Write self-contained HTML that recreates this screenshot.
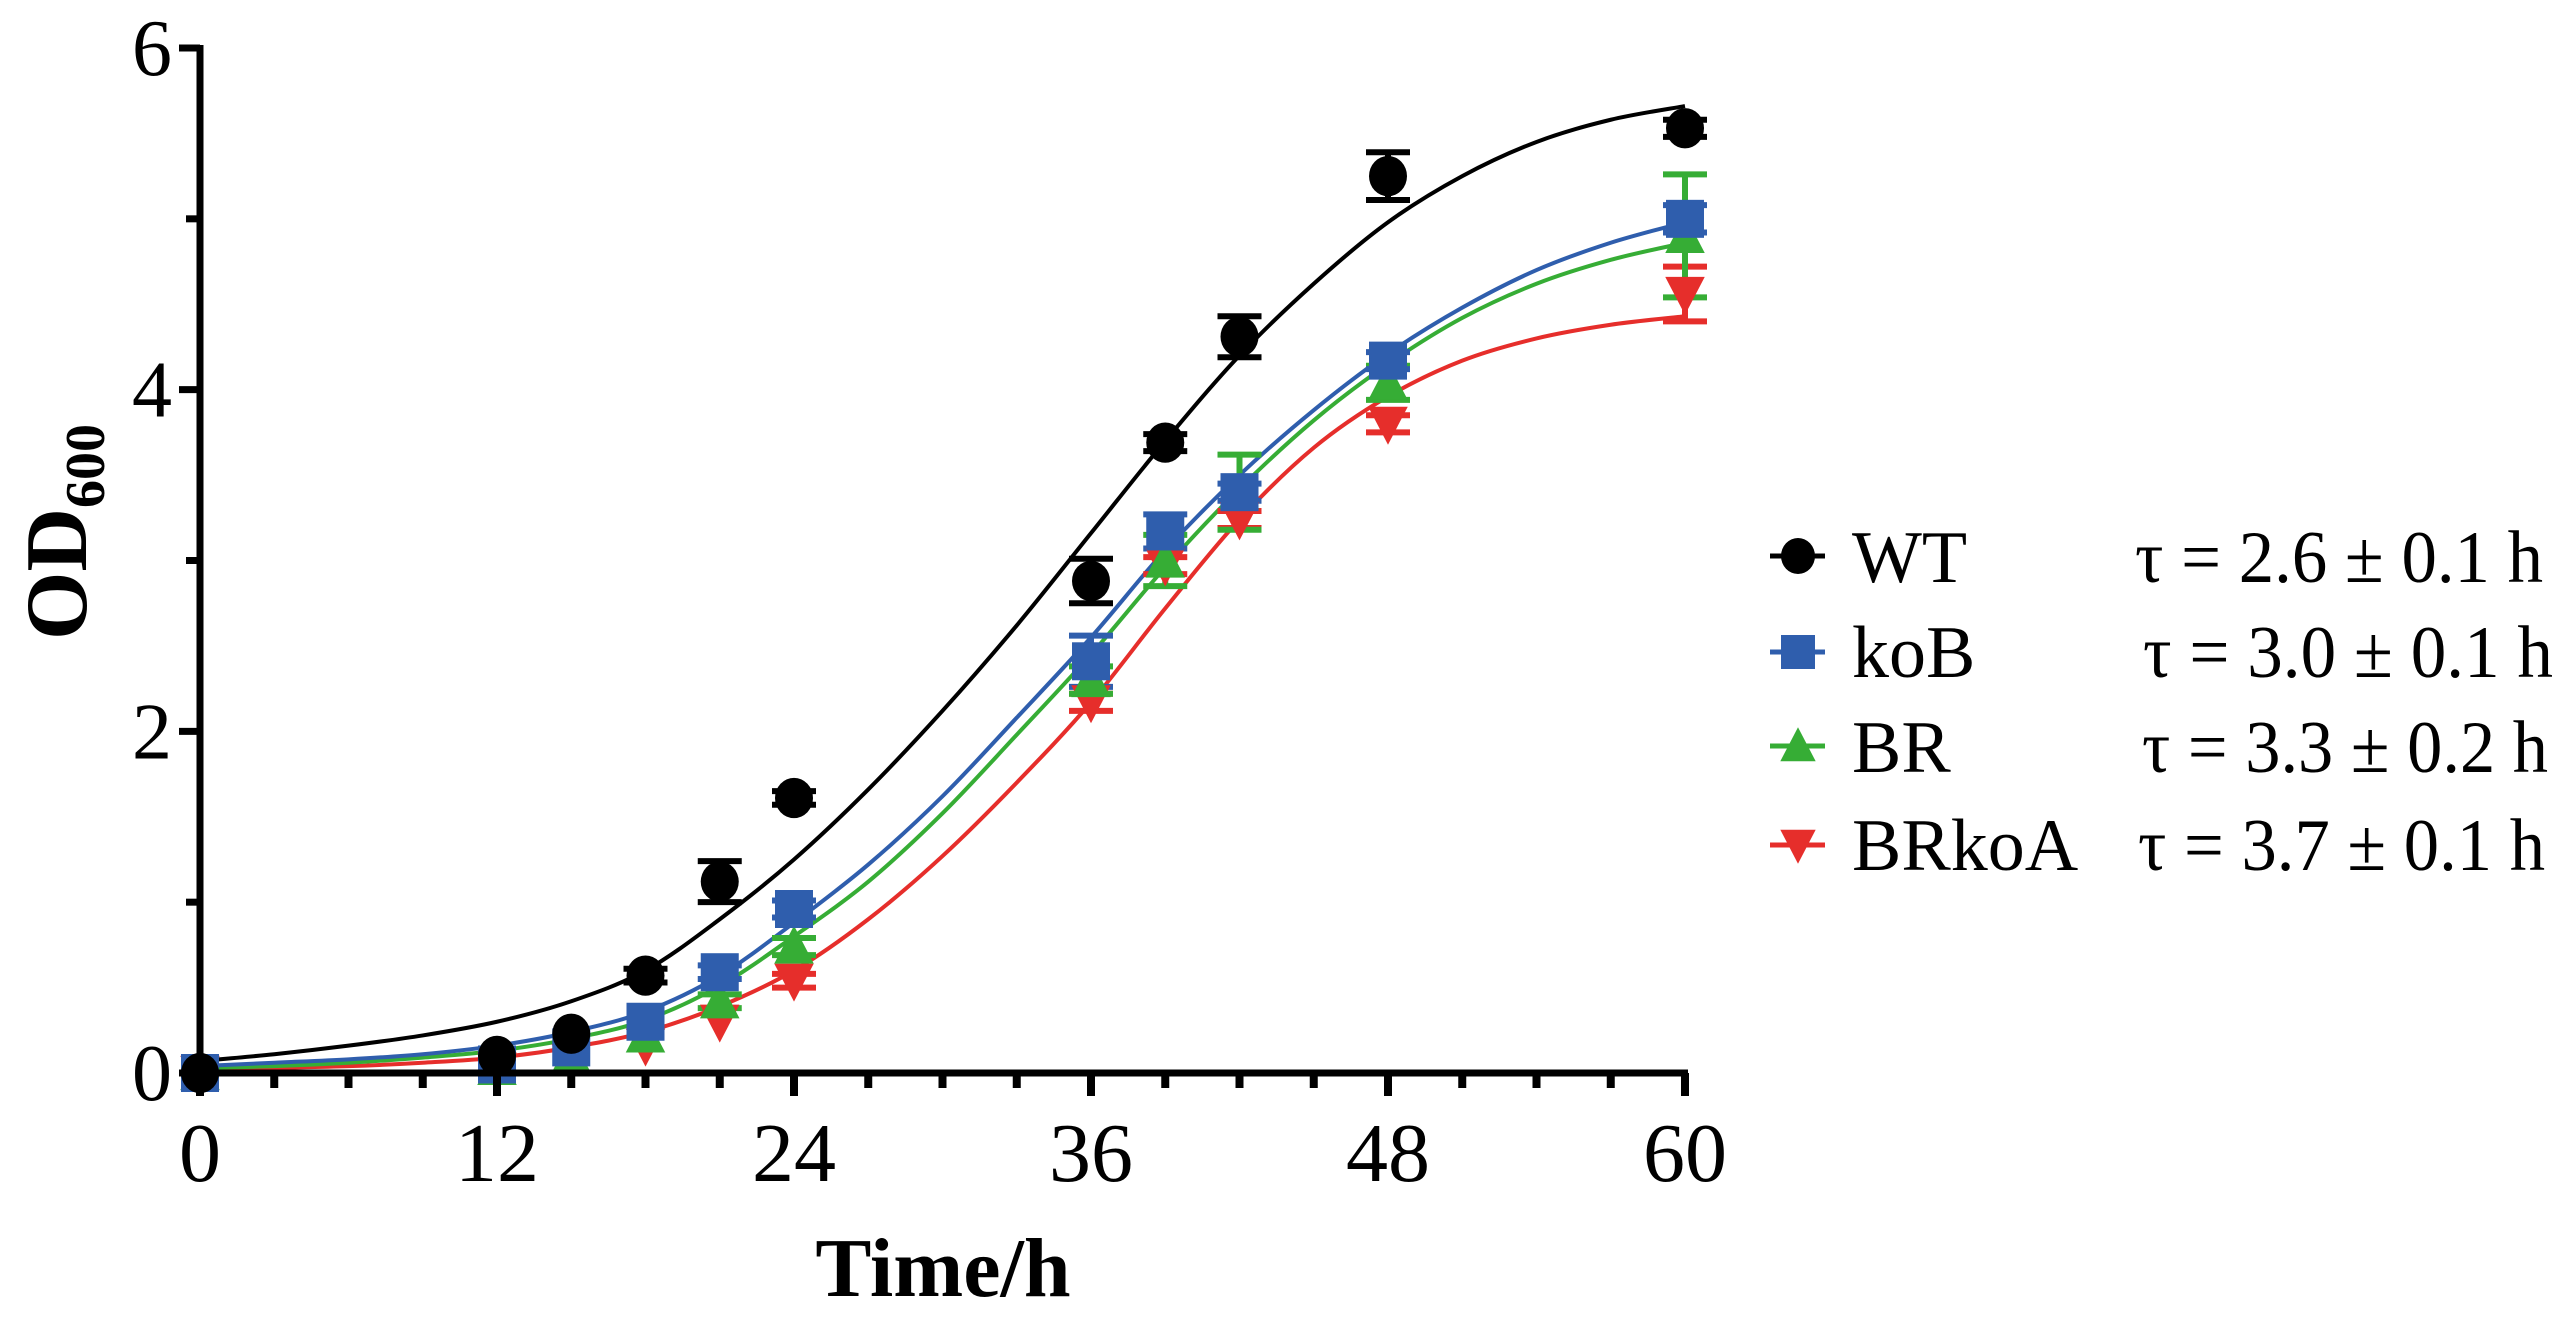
<!DOCTYPE html>
<html><head><meta charset="utf-8"><style>
html,body{margin:0;padding:0;background:#fff;}
svg{display:block;font-family:"Liberation Serif","DejaVu Serif","Times New Roman",serif;}
svg text{font-family:"Liberation Serif","DejaVu Serif","Times New Roman",serif;fill:#000;}
</style></head><body>
<svg id="chart" width="2569" height="1319" viewBox="0 0 2569 1319" xmlns="http://www.w3.org/2000/svg" font-family="Liberation Serif, DejaVu Serif, serif">
<g id="curves"></g>
<g id="errs"></g>
<g id="marks"></g>
<g id="axes"></g>
<text transform="translate(86,640) rotate(-90)" font-size="88" font-weight="bold" font-family="Liberation Serif, serif">OD<tspan font-size="56" dy="18">600</tspan></text>
<text x="943" y="1296" font-size="84" font-weight="bold" text-anchor="middle" font-family="Liberation Serif, serif">Time/h</text>
<g id="legend"></g>
</svg>
<script>
const times = [0, 12, 15, 18, 21, 24, 36, 39, 42, 48, 60];
const wtValues = [0, 0.10, 0.23, 0.57, 1.12, 1.61, 2.88, 3.69, 4.31, 5.25, 5.53];
const wtErr = [0, 0.02, 0.03, 0.04, 0.12, 0.04, 0.13, 0.05, 0.12, 0.14, 0.05];
const kobValues = [0, 0.05, 0.15, 0.30, 0.59, 0.96, 2.41, 3.17, 3.40, 4.17, 5.00];
const kobErr = [0, 0.02, 0.02, 0.03, 0.04, 0.05, 0.15, 0.10, 0.05, 0.05, 0.08];
const brValues = [0, 0.03, 0.10, 0.22, 0.42, 0.74, 2.30, 3.00, 3.40, 4.04, 4.90];
const brErr = [0, 0.02, 0.02, 0.03, 0.04, 0.05, 0.08, 0.15, 0.22, 0.10, 0.36];
const brkoaValues = [0, 0.02, 0.07, 0.16, 0.30, 0.54, 2.17, 2.97, 3.24, 3.80, 4.56];
const brkoaErr = [0, 0.01, 0.02, 0.02, 0.03, 0.04, 0.05, 0.05, 0.05, 0.05, 0.16];
const curveTimes = [0,3,6,9,12,15,18,21,24,27,30,33,36,39,42,45,48,51,54,57,60];
const wtCurve = [0.07,0.11,0.16,0.22,0.30,0.42,0.60,0.90,1.25,1.66,2.12,2.62,3.16,3.70,4.20,4.62,4.98,5.25,5.45,5.58,5.66];
const kobCurve = [0.04,0.06,0.08,0.11,0.16,0.24,0.36,0.57,0.88,1.22,1.62,2.08,2.55,3.06,3.50,3.88,4.21,4.48,4.70,4.86,4.98];
const brCurve = [0.03,0.04,0.06,0.09,0.13,0.20,0.31,0.51,0.80,1.12,1.52,1.98,2.45,2.96,3.42,3.82,4.15,4.42,4.62,4.76,4.86];
const brkoaCurve = [0.02,0.03,0.04,0.06,0.09,0.15,0.24,0.39,0.60,0.90,1.27,1.70,2.17,2.72,3.24,3.66,3.96,4.17,4.30,4.38,4.43];
const xTickLabels = ["0","12","24","36","48","60"];
const yTickLabels = ["0","2","4","6"];
const seriesNames = ["WT","koB","BR","BRkoA"];
const tauLabels = ["τ = 2.6 ± 0.1 h","τ = 3.0 ± 0.1 h","τ = 3.3 ± 0.2 h","τ = 3.7 ± 0.1 h"];

const NS="http://www.w3.org/2000/svg";
const FONT="Liberation Serif, DejaVu Serif, serif";
const X0=200, X1=1685, Y0=1073, Y6=48;
const xs=t=>X0+(t/60)*(X1-X0);
const ys=v=>Y0-(v/6)*(Y0-Y6);
function mk(tag,attrs,parent){const e=document.createElementNS(NS,tag);for(const k in attrs)e.setAttribute(k,attrs[k]);parent.appendChild(e);return e;}
const curvesG=document.getElementById('curves'),errsG=document.getElementById('errs'),marksG=document.getElementById('marks'),axesG=document.getElementById('axes'),legG=document.getElementById('legend');

function smooth(pts){
  let d=`M${pts[0][0]},${pts[0][1]}`;
  for(let i=0;i<pts.length-1;i++){
    const p0=pts[Math.max(0,i-1)],p1=pts[i],p2=pts[i+1],p3=pts[Math.min(pts.length-1,i+2)];
    const c1=[p1[0]+(p2[0]-p0[0])/6,p1[1]+(p2[1]-p0[1])/6];
    const c2=[p2[0]-(p3[0]-p1[0])/6,p2[1]-(p3[1]-p1[1])/6];
    d+=` C${c1[0]},${c1[1]} ${c2[0]},${c2[1]} ${p2[0]},${p2[1]}`;
  }
  return d;
}
function marker(shape,cx,cy,color,s,parent){
  let e;
  if(shape==='circle'){e=mk('ellipse',{cx:cx,cy:cy,rx:s*0.5,ry:s*0.53,fill:color},parent);}
  else if(shape==='square'){e=mk('rect',{x:cx-s/2,y:cy-s/2,width:s,height:s,fill:color},parent);}
  else if(shape==='up'){e=mk('polygon',{points:`${cx},${cy-s*0.55} ${cx+s*0.52},${cy+s*0.45} ${cx-s*0.52},${cy+s*0.45}`,fill:color},parent);}
  else {e=mk('polygon',{points:`${cx},${cy+s*0.55} ${cx+s*0.52},${cy-s*0.45} ${cx-s*0.52},${cy-s*0.45}`,fill:color},parent);}
  return e;
}
const series=[
  {name:'brkoa',vals:brkoaValues,err:brkoaErr,curve:brkoaCurve,color:'#e62e2b',shape:'down'},
  {name:'br',vals:brValues,err:brErr,curve:brCurve,color:'#36ad35',shape:'up'},
  {name:'kob',vals:kobValues,err:kobErr,curve:kobCurve,color:'#2f5ead',shape:'square'},
  {name:'wt',vals:wtValues,err:wtErr,curve:wtCurve,color:'#000000',shape:'circle'}
];
series.forEach(s=>{
  const p=mk('path',{d:smooth(curveTimes.map((t,i)=>[xs(t),ys(s.curve[i])])),fill:'none',stroke:s.color,'stroke-width':4},curvesG);
  
  
  times.forEach((t,i)=>{
    const cx=xs(t),cy=ys(s.vals[i]),e=s.err[i];
    if(e>0.03){
      const g=mk('g',{stroke:s.color,'stroke-width':6},errsG);
      
      
      mk('line',{x1:cx,x2:cx,y1:ys(s.vals[i]+e),y2:ys(s.vals[i]-e)},g);
      mk('line',{x1:cx-22,x2:cx+22,y1:ys(s.vals[i]+e),y2:ys(s.vals[i]+e)},g);
      mk('line',{x1:cx-22,x2:cx+22,y1:ys(s.vals[i]-e),y2:ys(s.vals[i]-e)},g);
    }
    const m=marker(s.shape,cx,cy,s.color,38,marksG);
    
    
  });
});
const ya=mk('line',{x1:X0,x2:X0,y1:Y6-3,y2:Y0+3,stroke:'#000','stroke-width':7},axesG);


const xa=mk('line',{x1:X0-3,x2:X1+3,y1:Y0,y2:Y0,stroke:'#000','stroke-width':7},axesG);


for(let v=0;v<=6;v++){
  const major=v%2===0;
  const tk=mk('line',{x1:major?179:186,x2:X0,y1:ys(v),y2:ys(v),stroke:'#000','stroke-width':7},axesG);
  
  
}
yTickLabels.forEach(l=>{
  const t=mk('text',{x:172,y:ys(+l)+27,'font-size':80,'text-anchor':'end','font-family':FONT},axesG);
  t.textContent=l;
  
  
});
for(let h=0;h<=60;h+=3){
  const major=h%12===0;
  const tk=mk('line',{x1:xs(h),x2:xs(h),y1:Y0,y2:major?1096:1088,stroke:'#000','stroke-width':8},axesG);
  
  
}
xTickLabels.forEach(l=>{
  const t=mk('text',{x:xs(+l),y:1181,'font-size':84,'text-anchor':'middle','font-family':FONT},axesG);
  t.textContent=l;
  
  
});
const legRows=[556,652,746,845], legBase=[582,677,772,870];
const legStyle=[['circle','#000'],['square','#2f5ead'],['up','#36ad35'],['down','#e62e2b']];
const tauX=[[2135,2543],[2143,2553],[2142,2548],[2138,2545]];
seriesNames.forEach((n,i)=>{
  const g=mk('g',{},legG);
  
  
  const cy=legRows[i];
  mk('line',{x1:1770,x2:1825,y1:cy,y2:cy,stroke:legStyle[i][1],'stroke-width':5},g);
  marker(legStyle[i][0],1798,cy,legStyle[i][1],34,g);
  const t=mk('text',{x:1852,y:legBase[i],'font-size':74,'font-family':FONT},g);
  t.textContent=n;
  const tt=mk('text',{x:tauX[i][0],y:legBase[i],'font-size':74,'font-family':FONT,textLength:tauX[i][1]-tauX[i][0],lengthAdjust:'spacingAndGlyphs'},g);
  tt.textContent=tauLabels[i];
});
</script>
</body></html>
